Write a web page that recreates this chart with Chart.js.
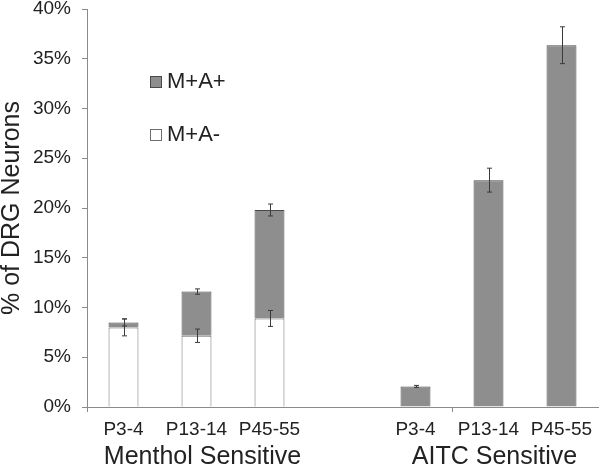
<!DOCTYPE html>
<html><head><meta charset="utf-8">
<script src="https://cdn.jsdelivr.net/npm/chart.js@4"></script>
<style>html,body{margin:0;padding:0;background:#fff}#wrap{width:600px;height:467px}</style>
</head><body><div id="wrap"><canvas id="c" width="600" height="467"></canvas></div>
<script>
const categories = ['P3-4', 'P13-14', 'P45-55', '', 'P3-4', 'P13-14', 'P45-55'];
const groupLabels = ['Menthol Sensitive', 'AITC Sensitive'];
const groupCenterIndex = [1, 5];
const seriesNames = ['M+A-', 'M+A+'];
const mPlusAMinus = [8.0, 7.16, 8.9, null, null, null, null];
const mPlusAPlus = [0.5, 4.44, 10.9, null, 2.07, 22.8, 36.36];
const errMPlusAMinus = [0.85, 0.67, 0.8, null, null, null, null];
const errMPlusAPlus = [0.35, 0.27, 0.6, null, 0.1, 1.2, 1.85];
const yMin = 0, yMax = 40, yStep = 5;

const TEXT = '#222';
const AXIS = '#8a8a8a';
const GRAY = '#8e8e8e';
const GRAY_BORDER = '#4a4a4a';
const WHITE_BORDER = '#6e6e6e';
const FONT = '"Liberation Sans", Arial, sans-serif';

const errorBars = {
  id: 'errorBars',
  afterDatasetsDraw(chart) {
    const ctx = chart.ctx, y = chart.scales.y;
    const errs = [errMPlusAMinus, errMPlusAPlus];
    ctx.save();
    ctx.strokeStyle = '#3a3a3a';
    ctx.lineWidth = 1;
    for (let d = 0; d < 2; d++) {
      const meta = chart.getDatasetMeta(d);
      errs[d].forEach((e, i) => {
        if (e == null) return;
        const top = d === 0 ? mPlusAMinus[i] : (mPlusAMinus[i] || 0) + mPlusAPlus[i];
        const bar = meta.data[i];
        const x = Math.round(bar.x) + 0.5;
        const hi = y.getPixelForValue(top + e), lo = y.getPixelForValue(top - e);
        ctx.beginPath();
        ctx.moveTo(x, hi); ctx.lineTo(x, lo);
        ctx.moveTo(x - 2.5, hi); ctx.lineTo(x + 2.5, hi);
        ctx.moveTo(x - 2.5, lo); ctx.lineTo(x + 2.5, lo);
        ctx.stroke();
      });
    }
    ctx.restore();
  }
};

const extras = {
  id: 'extras',
  afterDraw(chart) {
    const ctx = chart.ctx, ca = chart.chartArea, xs = chart.scales.x;
    ctx.save();
    ctx.fillStyle = TEXT;
    ctx.font = '25px ' + FONT;
    ctx.textAlign = 'center';
    ctx.textBaseline = 'alphabetic';
    groupLabels.forEach((g, k) => {
      ctx.fillText(g, xs.getPixelForValue(groupCenterIndex[k]) + 6, ca.bottom + 57);
    });
    // legend
    const items = [
      { name: seriesNames[1], fill: GRAY, stroke: GRAY_BORDER, cy: ca.top + 72 },
      { name: seriesNames[0], fill: '#fff', stroke: WHITE_BORDER, cy: ca.top + 125 }
    ];
    ctx.textAlign = 'left';
    ctx.textBaseline = 'middle';
    ctx.font = '22px ' + FONT;
    items.forEach(it => {
      const sx = ca.left + 63.5, sy = Math.round(it.cy - 5.5) + 0.5;
      ctx.fillStyle = it.fill;
      ctx.fillRect(sx, sy, 11, 11);
      ctx.strokeStyle = it.stroke;
      ctx.lineWidth = 1;
      ctx.strokeRect(sx, sy, 11, 11);
      ctx.fillStyle = TEXT;
      ctx.fillText(it.name, ca.left + 80, it.cy + 1);
    });
    ctx.restore();
  }
};

new Chart(document.getElementById('c'), {
  type: 'bar',
  data: {
    labels: categories,
    datasets: [
      { label: seriesNames[0], data: mPlusAMinus, backgroundColor: '#fff', borderColor: WHITE_BORDER, borderWidth: 1 },
      { label: seriesNames[1], data: mPlusAPlus, backgroundColor: GRAY, borderColor: GRAY_BORDER, borderWidth: 1 }
    ]
  },
  options: {
    responsive: false,
    devicePixelRatio: 1,
    animation: false,
    layout: { padding: { top: 0, right: 2, left: 0, bottom: 0 } },
    datasets: { bar: { barPercentage: 0.41, categoryPercentage: 1 } },
    plugins: { legend: { display: false }, tooltip: { enabled: false } },
    scales: {
      x: {
        stacked: true,
        border: { display: true, color: AXIS, width: 1 },
        grid: {
          drawOnChartArea: false, drawTicks: true, tickLength: 5, offset: true,
          color: c => (c.index === 0 || c.index === 5) ? AXIS : 'rgba(0,0,0,0)'
        },
        ticks: { color: TEXT, font: { size: 19, family: FONT }, padding: 6, maxRotation: 0, autoSkip: false },
        afterFit: s => { s.height = 60; s.paddingLeft = 0; s.paddingRight = 0; }
      },
      y: {
        stacked: true,
        min: yMin, max: yMax,
        border: { display: true, color: AXIS, width: 1 },
        grid: { drawOnChartArea: false, drawTicks: true, tickLength: 5, color: AXIS },
        ticks: { stepSize: yStep, color: TEXT, font: { size: 19, family: FONT }, padding: 11, callback: v => v + '%' },
        title: { display: true, text: '% of DRG Neurons', color: TEXT, font: { size: 25, family: FONT, lineHeight: 1 }, padding: 0 },
        afterFit: s => { s.width = 87; s.paddingTop = 9; s.paddingBottom = 0; }
      }
    }
  },
  plugins: [errorBars, extras]
});
</script></body></html>
